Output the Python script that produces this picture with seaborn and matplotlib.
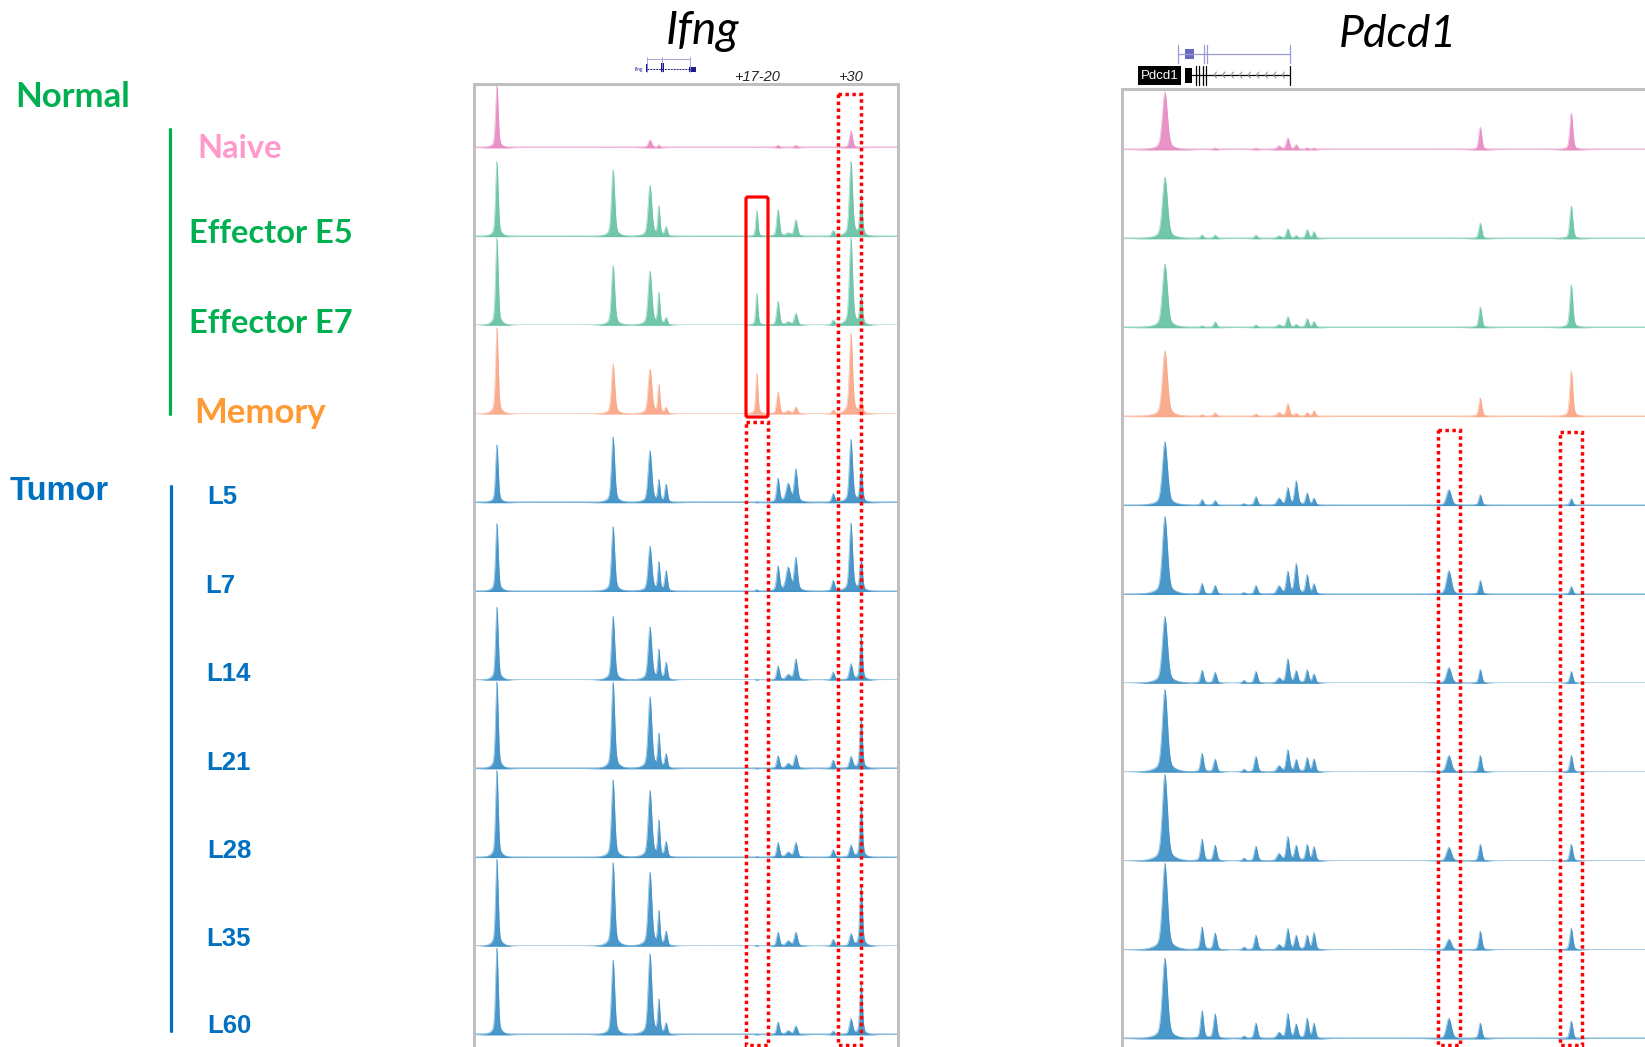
import numpy as np
import pandas as pd
import matplotlib
matplotlib.use("Agg")
import matplotlib.pyplot as plt
from matplotlib.patches import Rectangle, FancyBboxPatch
import seaborn as sns

W, H = 1645, 1047

tracks = ["Naive", "Effector E5", "Effector E7", "Memory",
          "L5", "L7", "L14", "L21", "L28", "L35", "L60"]
groups = ["naive", "effector", "effector", "memory"] + ["tumor"] * 7

# Ifng window: peak positions (% of window), widths and heights per track
ifng_pos = [5.4, 32.8, 41.5, 43.6, 45.3, 66.7, 71.7, 74.1, 75.9, 84.7, 88.9, 91.3]
ifng_wid = [0.3, 0.37, 0.42, 0.25, 0.3, 0.25, 0.32, 0.5, 0.37, 0.35, 0.37, 0.3]
ifng_heights = [
    [63, 0, 8, 3, 0, 0, 3, 0, 3, 0, 17, 0],       # Naive
    [75, 67, 51, 29, 9, 26, 27, 3, 17, 6, 75, 40],  # Effector E5
    [87, 60, 54, 31, 7, 32, 24, 3, 12, 5, 87, 29],  # Effector E7
    [86, 50, 45, 28, 6, 41, 22, 3, 7, 4, 81, 16],   # Memory
    [58, 66, 52, 21, 18, 1, 24, 18, 33, 9, 63, 33],  # L5
    [68, 65, 45, 28, 20, 2, 25, 23, 33, 11, 68, 32],  # L7
    [73, 64, 53, 29, 17, 1, 14, 5, 21, 8, 16, 43],  # L14
    [87, 87, 72, 33, 14, 1, 13, 5, 14, 9, 12, 50],  # L21
    [87, 78, 67, 35, 15, 1, 15, 5, 15, 8, 12, 52],  # L28
    [87, 84, 74, 33, 14, 1, 14, 5, 14, 7, 12, 62],  # L35
    [87, 75, 81, 33, 11, 1, 13, 4, 9, 4, 16, 51],   # L60
]

# Pdcd1 window
pdcd1_pos = [8.2, 15.3, 17.8, 23.3, 25.6, 30.0, 31.7, 33.3, 35.4, 36.7, 62.5, 68.5, 85.9]
pdcd1_wid = [0.47, 0.28, 0.3, 0.3, 0.3, 0.4, 0.3, 0.3, 0.28, 0.28, 0.45, 0.28, 0.28]
pdcd1_heights = [
    [58, 0, 2, 0, 2, 4, 12, 5, 2, 2, 0, 23, 37],
    [62, 4, 4, 0, 4, 3, 10, 3, 9, 7, 0, 16, 33],
    [64, 2, 6, 0, 3, 3, 11, 3, 9, 6, 0, 21, 43],
    [66, 2, 4, 0, 3, 4, 13, 3, 4, 6, 0, 19, 46],
    [64, 6, 5, 2, 9, 7, 17, 24, 12, 7, 16, 11, 7],
    [78, 11, 9, 2, 9, 8, 22, 30, 19, 10, 24, 14, 8],
    [67, 13, 11, 3, 12, 5, 24, 12, 13, 9, 16, 14, 12],
    [83, 19, 13, 3, 16, 6, 22, 12, 14, 13, 17, 17, 17],
    [87, 22, 16, 3, 15, 7, 24, 15, 16, 14, 14, 17, 17],
    [87, 23, 17, 3, 15, 5, 21, 14, 14, 17, 11, 19, 22],
    [81, 28, 25, 3, 16, 6, 25, 14, 20, 15, 21, 16, 18],
]

sns.set_theme(style="white")
plt.rcParams['font.family'] = ['Lato', 'DejaVu Sans']
set2 = sns.color_palette("Set2")
track_col = {"naive": set2[3], "effector": set2[0], "memory": "#f9a585",
             "tumor": "#3a8fc6"}

fig = plt.figure(figsize=(W / 100, H / 100), dpi=100)


def px_axes(x0, y0, x1, y1):
    return fig.add_axes([x0 / W, 1 - y1 / H, (x1 - x0) / W, (y1 - y0) / H])


def profile(x, pos, hts, wid):
    y = np.zeros_like(x)
    for p, h, w in zip(pos, hts, wid):
        d = np.abs(x - p)
        y += h * (0.8 * np.exp(-0.5 * (d / w) ** 2) + 0.2 * np.exp(-d / (3 * w)))
    return y


xs = np.linspace(0, 100, 3000)


def draw_panel(x0, x1, base0, step, pos, wid, heights):
    for i, (name, grp) in enumerate(zip(tracks, groups)):
        base = base0 + step * i
        ax = px_axes(x0, base - step, x1, base)
        ys = profile(xs, pos, heights[i], wid)
        c = track_col[grp]
        df = pd.DataFrame({"pos": xs, "signal": ys})
        ax.fill_between(df["pos"], 0, df["signal"], color=c, alpha=0.92, lw=0)
        sns.lineplot(data=df, x="pos", y="signal", ax=ax, color=c, lw=0.5,
                     alpha=0.6, estimator=None)
        ax.axhline(0.6, color=c, lw=1.8, alpha=0.45)
        ax.set_xlim(0, 100)
        ax.set_ylim(0, step)
        ax.axis("off")


draw_panel(474, 898, 148, 88.7, ifng_pos, ifng_wid, ifng_heights)
draw_panel(1122, 1645, 150, 88.9, pdcd1_pos, pdcd1_wid, pdcd1_heights)

# overlay in pixel coordinates for frames, boxes and labels
ov = fig.add_axes([0, 0, 1, 1], zorder=10)
ov.set_xlim(0, W)
ov.set_ylim(H, 0)
ov.axis("off")

frame = "#c0c0c0"
ov.plot([474, 474, 898, 898], [H + 5, 84, 84, H + 5], color=frame, lw=2.2,
        solid_joinstyle="miter")
ov.plot([1122, 1122, W + 5], [H + 5, 89, 89], color=frame, lw=2.2,
        solid_joinstyle="miter")

red = "#ff0000"
ov.add_patch(FancyBboxPatch((746, 197), 22, 220,
                            boxstyle="round,pad=0,rounding_size=2",
                            fill=False, ec=red, lw=2.3))
for bx, by, bw in [(746, 422, 22), (838, 94, 23), (1438, 430, 22), (1560, 432, 22)]:
    ov.add_patch(Rectangle((bx, by), bw, 1045 - by, fill=False, ec=red,
                           lw=2.5, ls=(0, (1, 1))))

# titles
ov.text(703, 44, "Ifng", fontsize=33, style="italic", ha="center",
        va="baseline", color="black")
ov.text(1398, 47, "Pdcd1", fontsize=32, style="italic", ha="center",
        va="baseline", color="black")
ov.text(757, 81, "+17-20", fontsize=10.5, style="italic", ha="center",
        va="baseline", family=["Liberation Sans", "DejaVu Sans"])
ov.text(850, 81, "+30", fontsize=10.5, style="italic", ha="center",
        va="baseline", family=["Liberation Sans", "DejaVu Sans"])

# Ifng gene model
navy = "#1c1c8a"
lav = "#9a9ad6"
ov.plot([647, 690], [59, 59], color=lav, lw=0.6)
for gx in [647, 662, 690]:
    ov.plot([gx, gx], [57, 72], color=lav, lw=0.6)
ov.plot([647, 696], [69, 69], color=navy, lw=0.7, ls=(0, (2, 1)))
ov.add_patch(Rectangle((645.5, 64), 2.5, 8, color=navy, lw=0))
ov.add_patch(Rectangle((661, 63), 2.5, 9, color=navy, lw=0))
ov.add_patch(Rectangle((689, 66.5), 7, 5, color=navy, lw=0))
ov.text(643, 70, "Ifng", fontsize=3.5, color=navy, ha="right", va="center")

# Pdcd1 gene model
ov.plot([1178, 1290], [54, 54], color=lav, lw=0.9)
for gx in [1178, 1204, 1207, 1290]:
    ov.plot([gx, gx], [45, 63], color=lav, lw=0.9)
ov.add_patch(Rectangle((1185, 49), 9, 10, color="#6a6ac0", lw=0))
ov.add_patch(Rectangle((1138, 66), 43, 19, color="black", lw=0))
ov.text(1159.5, 76, "Pdcd1", fontsize=9.5, color="white", ha="center",
        va="center", family=["Liberation Sans", "DejaVu Sans"])
ov.add_patch(Rectangle((1185, 68), 7, 15, color="black", lw=0))
for gx in [1196, 1198.5, 1202.5, 1206]:
    ov.plot([gx, gx], [66, 85], color="black", lw=0.9)
ov.plot([1192, 1290], [75, 75], color="black", lw=0.9)
ov.plot([1290, 1290], [66, 85], color="black", lw=0.9)
for cx in np.arange(1214, 1288, 8.5):
    ov.plot([cx + 2.5, cx, cx + 2.5], [72, 75, 78], color="#8a8a8a", lw=0.7)

# left labels
green = "#00b050"
blue = "#0070c0"
lab = dict(fontsize=23.5, fontweight="bold", va="baseline")
ov.text(15, 107, "Normal", color=green, fontsize=25, fontweight="bold",
        va="baseline")
ov.plot([170, 170], [129, 414], color=green, lw=2.3)
ov.text(197, 158, "Naive", color="#ff99cc", **lab)
ov.text(189, 243, "Effector E5", color=green, **lab)
ov.text(189, 333, "Effector E7", color=green, **lab)
ov.text(194, 423, "Memory", color="#ff9933", fontsize=25, fontweight="bold",
        va="baseline")

arial = ["Liberation Sans", "DejaVu Sans"]
ov.text(10, 500, "Tumor", color=blue, fontsize=23.5, fontweight="bold",
        va="baseline", family=arial)
ov.plot([171, 171], [486, 1031], color=blue, lw=2.3)
tumor_lab_x = [207, 205, 206, 206, 207, 206, 207]
tumor_lab_y = [504, 593, 681, 770, 858, 946, 1033]
for name, lx, ly in zip(tracks[4:], tumor_lab_x, tumor_lab_y):
    ov.text(lx, ly, name, color=blue, fontsize=18.5, fontweight="bold",
            va="baseline", family=arial)

fig.savefig("out.png", dpi=100, facecolor="white")
